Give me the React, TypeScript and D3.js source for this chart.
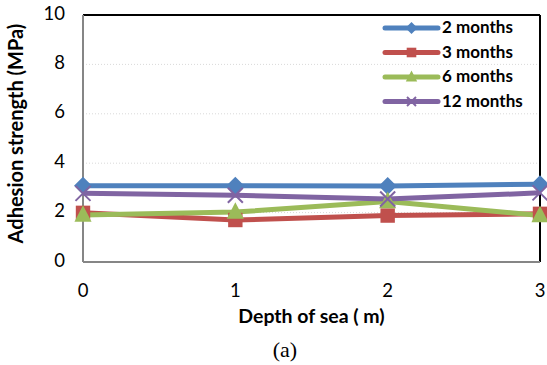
import React from "react";
import * as d3 from "d3";

const depths = [0, 1, 2, 3];
const months2 = [3.09, 3.09, 3.08, 3.15];
const months3 = [1.99, 1.7, 1.88, 1.95];
const months6 = [1.9, 2.02, 2.45, 1.88];
const months12 = [2.78, 2.7, 2.55, 2.8];
const yTickValues = [0, 2, 4, 6, 8, 10];

const SERIES = [
  { label: "2 months", values: months2, color: "#4F81BD", marker: "diamond" },
  { label: "3 months", values: months3, color: "#C0504D", marker: "square" },
  { label: "6 months", values: months6, color: "#9BBB59", marker: "triangle" },
  { label: "12 months", values: months12, color: "#8064A2", marker: "x" },
];

const W = 547;
const H = 365;
const margin = { top: 15, right: 7, bottom: 103, left: 83 };
const FONT = "Lato, 'Open Sans', sans-serif";

function Marker({ type, x, y, color, s }: { type: string; x: number; y: number; color: string; s: number }) {
  if (type === "diamond") {
    return <path d={`M${x},${y - s}L${x + s},${y}L${x},${y + s}L${x - s},${y}Z`} fill={color} />;
  }
  if (type === "square") {
    return <rect x={x - s * 0.8} y={y - s * 0.8} width={s * 1.6} height={s * 1.6} fill={color} />;
  }
  if (type === "triangle") {
    return <path d={`M${x},${y - s * 1.1}L${x + s * 0.95},${y + s * 0.75}L${x - s * 0.95},${y + s * 0.75}Z`} fill={color} />;
  }
  return (
    <g stroke={color} strokeWidth={2}>
      <line x1={x - s * 0.75} y1={y - s * 0.75} x2={x + s * 0.75} y2={y + s * 0.75} />
      <line x1={x - s * 0.75} y1={y + s * 0.75} x2={x + s * 0.75} y2={y - s * 0.75} />
    </g>
  );
}

export default function App() {
  const w = W - margin.left - margin.right;
  const h = H - margin.top - margin.bottom;
  const x = d3.scaleLinear().domain([0, 3]).range([0, w]);
  const y = d3.scaleLinear().domain([0, 10]).range([h, 0]);
  const line = d3
    .line<number>()
    .x((_, i) => x(depths[i]))
    .y((d) => y(d));

  return (
    <svg
      width={W}
      height={H}
      style={{ position: "absolute", left: 0, top: 0, background: "#fff" }}
      fontFamily={FONT}
    >
      <g transform={`translate(${margin.left},${margin.top})`}>
        {/* Grid */}
        {yTickValues
          .filter((t) => t > 0 && t < 10)
          .map((t) => (
            <line key={t} x1={0} x2={w} y1={y(t)} y2={y(t)} stroke="#d9d9d9" strokeDasharray="1,2" />
          ))}

        {/* Frame */}
        <line x1={0} x2={w} y1={0} y2={0} stroke="#000" strokeWidth={2} />
        <line x1={w} x2={w} y1={0} y2={h} stroke="#000" strokeWidth={2} />
        <line x1={0} x2={0} y1={0} y2={h} stroke="#868686" strokeWidth={2} />
        <line x1={0} x2={w} y1={h} y2={h} stroke="#868686" strokeWidth={2} />

        {/* Y ticks */}
        {yTickValues.map((t) => (
          <text key={t} x={-18} y={y(t)} fontSize={18.5} textAnchor="end" dominantBaseline="middle" fill="#000">
            {t}
          </text>
        ))}

        {/* X ticks */}
        {depths.map((d) => (
          <text key={d} x={x(d)} y={h + 30} fontSize={18.5} textAnchor="middle" dominantBaseline="middle" fill="#000">
            {d}
          </text>
        ))}

        {/* Lines */}
        {SERIES.map((s) => (
          <path key={s.label} d={line(s.values) || ""} fill="none" stroke={s.color} strokeWidth={5} strokeLinejoin="round" />
        ))}

        {/* Markers */}
        {SERIES.map((s) =>
          s.values.map((v, i) => (
            <Marker key={s.label + i} type={s.marker} x={x(depths[i])} y={y(v)} color={s.color} s={s.marker === "x" ? 10 : 9} />
          ))
        )}

        {/* Legend */}
        {SERIES.map((s, i) => (
          <g key={s.label} transform={`translate(${300},${13 + i * 24.5})`}>
            <line x1={2} x2={55} y1={0} y2={0} stroke={s.color} strokeWidth={5} strokeLinecap="round" />
            <Marker type={s.marker} x={28.5} y={0} color={s.color} s={6} />
            <text x={59} y={1} fontSize={17} fontWeight="bold" dominantBaseline="middle" fill="#000">
              {s.label}
            </text>
          </g>
        ))}

        {/* Axis titles */}
        <text x={w / 2} y={h + 56} fontSize={19.5} fontWeight="bold" textAnchor="middle" dominantBaseline="middle" fill="#000">
          Depth of sea ( m)
        </text>
        <text
          transform={`translate(${-65},${h / 2 - 5}) rotate(-90)`}
          fontSize={20}
          fontWeight="bold"
          textAnchor="middle"
          dominantBaseline="middle"
          fill="#000"
        >
          Adhesion strength (MPa)
        </text>
      </g>
      <text x={285} y={352} fontSize={22} fontFamily="'Liberation Serif', 'DejaVu Serif', serif" textAnchor="middle" dominantBaseline="middle" fill="#000">
        (a)
      </text>
    </svg>
  );
}
